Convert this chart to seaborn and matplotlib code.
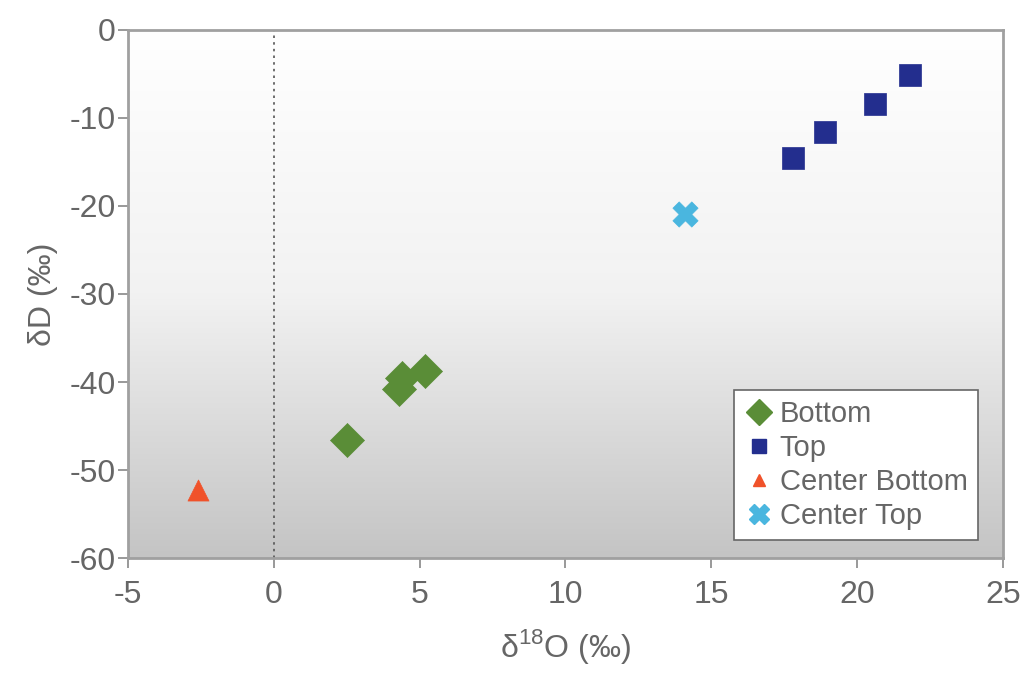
import numpy as np
import pandas as pd
import matplotlib
matplotlib.use("Agg")
import matplotlib.pyplot as plt
from matplotlib.lines import Line2D
from matplotlib.colors import LinearSegmentedColormap
import seaborn as sns

# data
groups = ["Bottom", "Top", "Center Bottom", "Center Top"]
bottom_x = [2.5, 4.3, 4.4, 5.2]
bottom_y = [-46.6, -40.8, -39.6, -38.8]
top_x = [17.8, 18.9, 20.6, 21.8]
top_y = [-14.6, -11.6, -8.4, -5.1]
cbot_x = [-2.6]
cbot_y = [-52.3]
ctop_x = [14.1]
ctop_y = [-20.9]

colors = {"Bottom": "#5a8d37", "Top": "#232e8e", "Center Bottom": "#f0522a", "Center Top": "#4ab6df"}
markers = {"Bottom": "D", "Top": "s", "Center Bottom": "^", "Center Top": "X"}
sizes = {"Bottom": 300, "Top": 260, "Center Bottom": 230, "Center Top": 330}

df = pd.concat([
    pd.DataFrame({"x": bottom_x, "y": bottom_y, "group": "Bottom"}),
    pd.DataFrame({"x": top_x, "y": top_y, "group": "Top"}),
    pd.DataFrame({"x": cbot_x, "y": cbot_y, "group": "Center Bottom"}),
    pd.DataFrame({"x": ctop_x, "y": ctop_y, "group": "Center Top"}),
])

sns.set_style("white")
plt.rcParams['font.family'] = ['Liberation Sans', 'DejaVu Sans']
plt.rcParams['mathtext.fontset'] = 'custom'
plt.rcParams['mathtext.rm'] = 'Liberation Sans'
plt.rcParams['axes.unicode_minus'] = False

txt = "#666666"
fig = plt.figure(figsize=(10.27, 6.75), dpi=100)
ax = fig.add_axes([0.1246, 0.1733, 0.8520, 0.7823])

# gradient background, white at top to grey at the bottom
cmap = LinearSegmentedColormap.from_list("bg", ["#ffffff", "#f2f2f2", "#c4c4c4"])
grad = np.linspace(0, 1, 256).reshape(-1, 1)
ax.imshow(grad, extent=[-5, 25, -60, 0], aspect="auto", cmap=cmap,
          zorder=0, origin="upper")

ax.axvline(0, color="#555555", linestyle=(0, (1.5, 2.5)), linewidth=1.2, zorder=1)

for g in groups:
    sub = df[df["group"] == g]
    sns.scatterplot(data=sub, x="x", y="y", color=colors[g], marker=markers[g],
                    s=sizes[g], edgecolor=colors[g], linewidth=0.5, ax=ax, zorder=3,
                    legend=False)

ax.set_xlim(-5, 25)
ax.set_ylim(-60, 0)
ax.set_xticks(range(-5, 26, 5))
ax.set_yticks(range(-60, 1, 10))
for sp in ax.spines.values():
    sp.set_color("#a0a0a0")
    sp.set_linewidth(2)
ax.tick_params(axis="both", direction="out", length=7, width=1.2, color="#888888",
               labelsize=23, labelcolor=txt, left=True, bottom=True)
ax.tick_params(axis="x", pad=9)
ax.tick_params(axis="y", pad=2)
ax.set_xlabel(r"δ$^{\mathregular{18}}$O (‰)", fontsize=23, color=txt, labelpad=12)
ax.set_ylabel("δD (‰)", fontsize=23, color=txt, labelpad=8)

handles = [Line2D([], [], linestyle="none", marker=markers[g], color=colors[g],
                  markersize=ms) for g, ms in zip(groups, [13, 10, 9, 14])]
leg = ax.legend(handles, groups, loc="lower right", bbox_to_anchor=(0.971, 0.034),
                fontsize=21, frameon=True, fancybox=False, framealpha=1,
                handletextpad=0.2, handlelength=1.0, borderpad=0.35, labelspacing=0.2,
                labelcolor=txt, borderaxespad=0)
leg.get_frame().set_edgecolor("#666666")
leg.get_frame().set_linewidth(1.2)

fig.savefig("out.png", dpi=100)
